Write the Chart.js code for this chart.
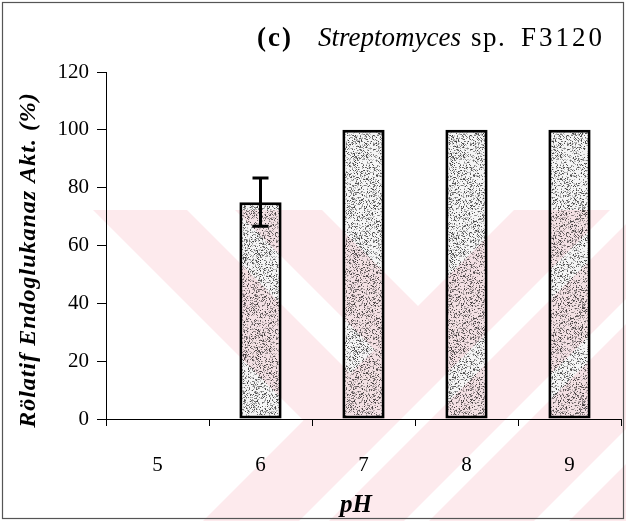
<!DOCTYPE html>
<html>
<head>
<meta charset="utf-8">
<script src="https://cdn.jsdelivr.net/npm/chart.js@4.4.1/dist/chart.umd.min.js"></script>
<style>
  html, body { margin: 0; padding: 0; background: #fff; }
  #wrap { width: 626px; height: 521px; position: relative; }
</style>
</head>
<body>
<div id="wrap"><canvas id="c" width="626" height="521"></canvas></div>
<script>
// pH categories and relative endoglucanase activity (%)
const phLabels = ['5', '6', '7', '8', '9'];
const activity = [0, 75, 100, 100, 100];
const activityErr = [0, 8.3, 0, 0, 0];
const yTickValues = [0, 20, 40, 60, 80, 100, 120];

const SERIF = '"Liberation Serif", "Times New Roman", serif';

// integer hash -> [0,1) for the stipple texture
function hash01(n) {
  let h = (n * 2654435761) >>> 0;
  h ^= h >>> 15; h = Math.imul(h, 2246822519) >>> 0;
  h ^= h >>> 13; h = Math.imul(h, 3266489917) >>> 0;
  h ^= h >>> 16;
  return (h >>> 0) / 4294967296;
}

// stippled grey fill used for the bars
function stipplePattern() {
  const s = 97;
  const pc = document.createElement('canvas');
  pc.width = s; pc.height = s;
  const g = pc.getContext('2d');
  const img = g.createImageData(s, s);
  for (let i = 0; i < s * s; i++) {
    const r = hash01(i + 17);
    let c = 245;
    if (r < 0.25) c = 60 + Math.floor(hash01(i * 7 + 3) * 110);
    else if (r < 0.36) c = 195;
    img.data[i * 4] = c; img.data[i * 4 + 1] = c; img.data[i * 4 + 2] = c; img.data[i * 4 + 3] = 255;
  }
  g.putImageData(img, 0, 0);
  return g.createPattern(pc, 'repeat');
}

const ctx = document.getElementById('c').getContext('2d');
const pattern = stipplePattern();

// error bar on top of each bar, from the error array
const errorBars = {
  id: 'errorBars',
  afterDatasetsDraw(chart) {
    const meta = chart.getDatasetMeta(0);
    const y = chart.scales.y;
    const c = chart.ctx;
    c.save();
    c.strokeStyle = '#000';
    c.lineWidth = 3;
    meta.data.forEach((bar, i) => {
      const e = activityErr[i];
      if (!e) return;
      const x = bar.x;
      const yt = y.getPixelForValue(activity[i] + e);
      const yb = y.getPixelForValue(activity[i] - e);
      c.beginPath();
      c.moveTo(x, yt); c.lineTo(x, yb);
      c.moveTo(x - 8, yt); c.lineTo(x + 8, yt);
      c.moveTo(x - 8, yb); c.lineTo(x + 8, yb);
      c.stroke();
    });
    c.restore();
  }
};

function spacedText(c, text, x, y, font, spacing) {
  c.font = font;
  if ('letterSpacing' in c) {
    c.letterSpacing = spacing + 'px';
    c.fillText(text, x, y);
    c.letterSpacing = '0px';
  } else {
    c.fillText(text, x, y);
  }
}

// title, axis titles, frame and the light background emblem
const decorations = {
  id: 'decorations',
  afterDraw(chart) {
    const c = chart.ctx;
    const W = chart.width, H = chart.height;
    const T = 210, far = 900;

    // faint diagonal emblem, multiplied over everything
    c.save();
    c.globalCompositeOperation = 'multiply';
    c.fillStyle = 'rgb(253,234,237)';
    c.beginPath();
    c.rect(0, T, W, H - T);
    c.clip();
    c.beginPath();
    // "\" strips ending on the first "/" strip
    c.moveTo(93, T); c.lineTo(187, T); c.lineTo(350.5, 373.5); c.lineTo(303.5, 420.5); c.closePath();
    c.moveTo(235, T); c.lineTo(322, T); c.lineTo(418, 306); c.lineTo(374.5, 349.5); c.closePath();
    // "/" strips: x + (y - T) in [a, b]
    const addFwd = (a, b) => { c.moveTo(a, T); c.lineTo(b, T); c.lineTo(b - far, T + far); c.lineTo(a - far, T + far); c.closePath(); };
    addFwd(514, 610);
    addFwd(640, 715);
    addFwd(740, 845);
    addFwd(880, 1400);
    c.fill('nonzero');
    c.restore();

    // outer frame
    c.save();
    c.strokeStyle = '#555';
    c.lineWidth = 1.2;
    c.strokeRect(2.5, 2.5, W - 5, H - 5);
    c.restore();

    // chart title: (c) Streptomyces sp. F3120
    c.save();
    c.fillStyle = '#000';
    c.textBaseline = 'alphabetic';
    c.textAlign = 'left';
    spacedText(c, '(c)', 257, 46, 'bold 27px ' + SERIF, 2);
    spacedText(c, 'Streptomyces', 318, 46, 'italic 27px ' + SERIF, 0);
    spacedText(c, 'sp.', 471, 46, '27px ' + SERIF, 1.5);
    spacedText(c, 'F3120', 521, 46, '27px ' + SERIF, 3);
    c.restore();

    // y axis title
    c.save();
    c.fillStyle = '#000';
    c.translate(29, 260);
    c.rotate(-Math.PI / 2);
    c.textAlign = 'center';
    c.textBaseline = 'middle';
    spacedText(c, 'Rölatif Endoglukanaz Akt. (%)', 0, 0, 'bold italic 24px ' + SERIF, 1);
    c.restore();

    // x axis title
    c.save();
    c.fillStyle = '#000';
    c.textAlign = 'center';
    c.textBaseline = 'middle';
    c.font = 'bold italic 25px ' + SERIF;
    c.fillText('pH', 356, 506);
    c.restore();
  }
};

new Chart(ctx, {
  type: 'bar',
  data: {
    labels: phLabels,
    datasets: [{
      data: activity,
      backgroundColor: pattern,
      borderColor: '#000',
      borderWidth: (cx) => (cx.raw > 0 ? 3 : 0),
      borderSkipped: false,
      barPercentage: 0.41,
      categoryPercentage: 1.0
    }]
  },
  options: {
    responsive: false,
    animation: false,
    devicePixelRatio: 1,
    layout: { padding: { left: 0, right: 5, top: 72, bottom: 0 } },
    plugins: { legend: { display: false }, tooltip: { enabled: false }, title: { display: false } },
    scales: {
      x: {
        grid: { display: true, drawOnChartArea: false, drawTicks: true, tickLength: 7, color: '#000', lineWidth: 1, offset: true },
        border: { display: true, color: '#000', width: 1 },
        ticks: { color: '#000', font: { family: SERIF, size: 21 }, padding: 27, maxRotation: 0 },
        afterFit(scale) { scale.height = 102; }
      },
      y: {
        min: 0, max: 120,
        afterBuildTicks(scale) { scale.ticks = yTickValues.map(v => ({ value: v })); },
        grid: { display: true, drawOnChartArea: false, drawTicks: true, tickLength: 9, color: '#000', lineWidth: 1 },
        border: { display: true, color: '#000', width: 1 },
        ticks: { color: '#000', font: { family: SERIF, size: 21 }, padding: 8 },
        afterFit(scale) { scale.width = 106; }
      }
    }
  },
  plugins: [errorBars, decorations]
});
</script>
</body>
</html>
